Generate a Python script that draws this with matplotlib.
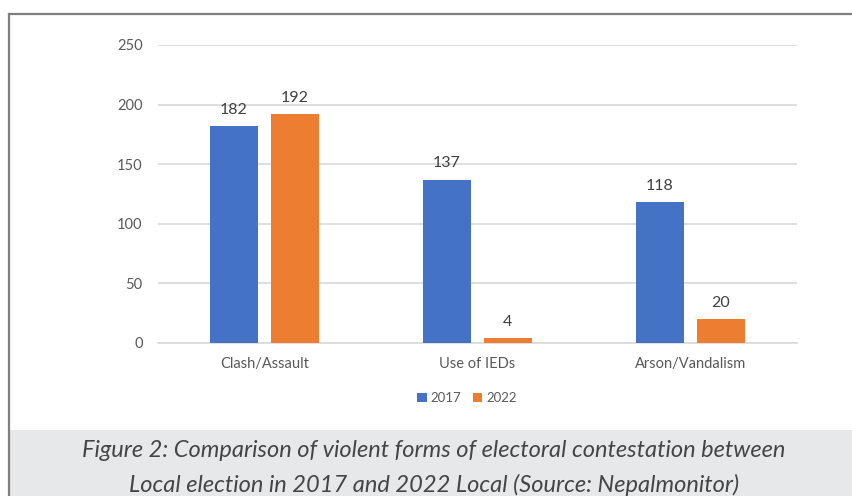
import matplotlib
matplotlib.use("Agg")
import matplotlib.pyplot as plt
import numpy as np
from matplotlib.patches import Rectangle
from matplotlib.lines import Line2D

categories = ["Clash/Assault", "Use of IEDs", "Arson/Vandalism"]
series_names = ["2017", "2022"]
values_2017 = [182, 137, 118]
values_2022 = [192, 4, 20]
y_ticks = [0, 50, 100, 150, 200, 250]
caption_lines = [
    "Figure 2: Comparison of violent forms of electoral contestation between",
    "Local election in 2017 and 2022 Local (Source: Nepalmonitor)",
]

blue = "#4472C4"
orange = "#ED7D31"
text_col = "#595959"
grid_col = "#D9D9D9"

W, H = 852, 496
fig = plt.figure(figsize=(W / 100, H / 100), dpi=100)
fig.patch.set_facecolor("white")

# caption panel and frame lines
fig.patches.append(Rectangle((10 / W, 0), 1, 66 / H, transform=fig.transFigure,
                             facecolor="#E7E8EA", edgecolor="none", zorder=0))
fig.lines.append(Line2D([9 / W, 9 / W], [0, 1 - 14 / H], transform=fig.transFigure,
                        color="#7F7F7F", lw=1.6))
fig.lines.append(Line2D([9 / W, 1], [1 - 14 / H, 1 - 14 / H], transform=fig.transFigure,
                        color="#7F7F7F", lw=1.6))

ax_left, ax_right = 158, 797
ax_top, ax_bot = 45, 343
ax = fig.add_axes([ax_left / W, 1 - ax_bot / H, (ax_right - ax_left) / W, (ax_bot - ax_top) / H])

x = np.arange(len(categories))
bw = 0.225
off = 0.143
b1 = ax.bar(x - off, values_2017, bw, color=blue, label=series_names[0], zorder=3)
b2 = ax.bar(x + off, values_2022, bw, color=orange, label=series_names[1], zorder=3)

for bars, vals in ((b1, values_2017), (b2, values_2022)):
    for rect, v in zip(bars, vals):
        ax.text(rect.get_x() + rect.get_width() / 2, v + 8, str(v), ha="center", va="bottom",
                fontsize=11.5, color="#404040", family="Lato")

ax.set_xlim(-0.5, len(categories) - 0.5)
ax.set_ylim(0, 250)
ax.set_yticks(y_ticks)
ax.set_yticklabels([str(t) for t in y_ticks], family="Lato", fontsize=10.5, color=text_col)
ax.set_xticks(x)
ax.set_xticklabels(categories, family="Lato", fontsize=10.5, color=text_col)
ax.tick_params(axis="both", length=0)
ax.tick_params(axis="y", pad=11)
ax.tick_params(axis="x", pad=10)
ax.yaxis.grid(True, color=grid_col, lw=1.2, zorder=0)
ax.set_axisbelow(True)
for s in ("top", "right", "left"):
    ax.spines[s].set_visible(False)
ax.spines["bottom"].set_color(grid_col)
ax.spines["bottom"].set_linewidth(1.2)

leg = fig.legend(handles=[b1, b2], labels=series_names, loc="center",
                 bbox_to_anchor=(467 / W, 1 - 398 / H), ncol=2, frameon=False,
                 prop={"family": "Lato", "size": 9.5}, handlelength=0.7, handleheight=0.7,
                 handletextpad=0.3, columnspacing=0.9)
for t in leg.get_texts():
    t.set_color(text_col)

for i, line in enumerate(caption_lines):
    fig.text(434 / W, 1 - (457 + 35 * i) / H, line, ha="center", va="baseline",
             family="Lato", style="italic", weight="normal", fontsize=17, color="#454545")

fig.savefig("out.png", dpi=100)
